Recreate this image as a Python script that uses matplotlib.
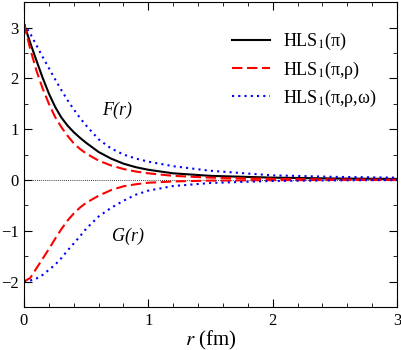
import matplotlib
matplotlib.use("Agg")
from matplotlib import pyplot as plt
from matplotlib.ticker import MultipleLocator

plt.rcParams['font.family'] = ['Liberation Serif', 'DejaVu Serif']
plt.rcParams['mathtext.fontset'] = 'stix'

#------------  data --------------------------------------------
r = [0.0, 0.05, 0.1, 0.15, 0.2, 0.25, 0.3, 0.35, 0.4, 0.45, 0.5, 0.6, 0.7, 0.8, 0.9,
     1.0, 1.2, 1.5, 2.0, 2.5, 3.0]

F_pi = [3.07, 2.70, 2.35, 2.01, 1.70, 1.44, 1.23, 1.07, 0.94, 0.83, 0.73, 0.55, 0.42, 0.32, 0.25,
        0.20, 0.13, 0.08, 0.045, 0.028, 0.02]
F_pirho = [3.07, 2.58, 2.15, 1.80, 1.50, 1.24, 1.04, 0.87, 0.72, 0.61, 0.52, 0.38, 0.285, 0.215, 0.165,
           0.13, 0.08, 0.045, 0.02, 0.01, 0.005]
F_pirhoom = [3.07, 2.88, 2.65, 2.42, 2.20, 1.98, 1.77, 1.57, 1.39, 1.22, 1.07, 0.80, 0.62, 0.50, 0.42,
             0.36, 0.27, 0.18, 0.09, 0.06, 0.045]

G_pirho = [-2.0, -1.93, -1.74, -1.55, -1.36, -1.16, -0.97, -0.80, -0.66, -0.545, -0.45, -0.31, -0.20, -0.125, -0.085,
           -0.055, -0.03, -0.013, -0.005, -0.002, -0.001]
G_pirhoom = [-2.0, -1.98, -1.94, -1.87, -1.77, -1.67, -1.54, -1.39, -1.25, -1.11, -0.96, -0.72, -0.55, -0.41, -0.29,
             -0.21, -0.12, -0.06, -0.02, -0.008, -0.003]

labels = [r'HLS$_1$(π)', r'HLS$_1$(π,ρ)', r'HLS$_1$(π,ρ,ω)']

#------------  plot -----------------------
fig = plt.figure(figsize=(4.02, 3.5), dpi=100)
ax = fig.add_axes([0.0597, 0.123, 0.928, 0.871])

ax.axhline(0, color='black', lw=0.6, ls=(0, (1, 1.5)))

dash = (0, (5, 2.2))
dots = (0, (1, 2))
l1, = ax.plot(r, F_pi, color='black', lw=1.5)
l2, = ax.plot(r, F_pirho, color='red', lw=1.5, ls=dash)
l3, = ax.plot(r, F_pirhoom, color='blue', lw=1.5, ls=dots)
ax.plot(r, G_pirho, color='red', lw=1.5, ls=dash)
ax.plot(r, G_pirhoom, color='blue', lw=1.5, ls=dots)

ax.text(0.75, 1.37, 'F(r)', style='italic', fontsize=13, ha='center', va='center')
ax.text(0.84, -1.12, 'G(r)', style='italic', fontsize=13, ha='center', va='center')

ax.legend([l1, l2, l3], labels, loc='upper left', frameon=False, fontsize=13,
          handlelength=2.1, handletextpad=0.7, labelspacing=0.4,
          borderpad=0, borderaxespad=0, bbox_to_anchor=(0.558, 0.905))

ax.set_xlim(0, 3)
ax.set_ylim(-2.5, 3.5)
ax.xaxis.set_major_locator(MultipleLocator(1))
ax.xaxis.set_minor_locator(MultipleLocator(0.2))
ax.yaxis.set_major_locator(MultipleLocator(1))
ax.yaxis.set_minor_locator(MultipleLocator(0.5))
ax.tick_params(which='both', direction='in', top=True, right=True, labelsize=12, pad=4)
ax.tick_params(which='major', length=6)
ax.tick_params(which='minor', length=3)
ax.set_xlabel(r'$\it{r}$ (fm)', fontsize=15, labelpad=0)

fig.savefig('out.png', dpi=100)
